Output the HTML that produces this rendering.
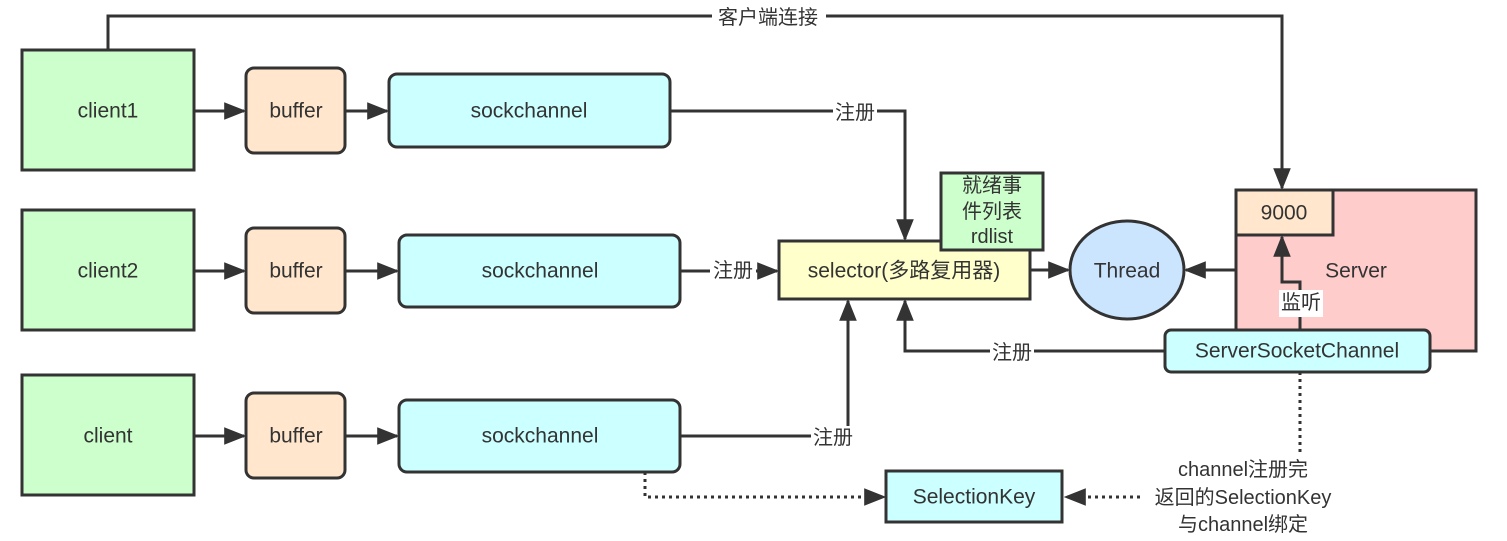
<!DOCTYPE html>
<html><head><meta charset="utf-8"><style>
html,body{margin:0;padding:0;background:#fff}
svg{display:block}
text{font-family:"Liberation Sans","Noto Sans CJK SC",sans-serif;fill:#333;dominant-baseline:central;text-anchor:middle}
</style></head><body>
<svg width="1507" height="541" viewBox="0 0 1507 541">
<defs>
<marker id="b" viewBox="0 0 10 10" refX="9" refY="5" markerWidth="22" markerHeight="22" markerUnits="userSpaceOnUse" orient="auto"><path d="M0,1L10,5L0,9z" fill="#333"/></marker></defs>
<g stroke="#333" stroke-width="3" fill="none">
<polyline points="108,50 108,16 1282,16 1282,188" marker-end="url(#b)"/>
<polyline points="670,111 905,111 905,239" marker-end="url(#b)"/>
<polyline points="680,271 777,271" marker-end="url(#b)"/>
<polyline points="680,436 848,436 848,301" marker-end="url(#b)"/>
<polyline points="1165,351 905,351 905,301" marker-end="url(#b)"/>
<polyline points="1030,270 1068,270" marker-end="url(#b)"/>
<polyline points="1236,270 1186,270" marker-end="url(#b)"/>
<polyline points="194,111 244,111" marker-end="url(#b)"/>
<polyline points="345,111 387,111" marker-end="url(#b)"/>
<polyline points="194,271 244,271" marker-end="url(#b)"/>
<polyline points="345,271 397,271" marker-end="url(#b)"/>
<polyline points="194,436 244,436" marker-end="url(#b)"/>
<polyline points="345,436 397,436" marker-end="url(#b)"/>
<g stroke-dasharray="3,4">
<polyline points="1300,372 1300,455"/>
<polyline points="1140,497 1066,497" marker-end="url(#b)"/>
<polyline points="645,472 645,497 884,497" marker-end="url(#b)"/>
</g>
</g>
<g stroke="#333" stroke-width="3">
<rect x="22" y="50" width="172" height="120" fill="#ccffcc"/>
<rect x="22" y="210" width="172" height="120" fill="#ccffcc"/>
<rect x="22" y="375" width="172" height="120" fill="#ccffcc"/>
<rect x="246" y="68" width="99" height="85" rx="8" fill="#ffe6cc"/>
<rect x="246" y="228" width="99" height="85" rx="8" fill="#ffe6cc"/>
<rect x="246" y="393" width="99" height="85" rx="8" fill="#ffe6cc"/>
<rect x="389" y="74" width="281" height="73" rx="8" fill="#ccffff"/>
<rect x="399" y="235" width="281" height="72" rx="8" fill="#ccffff"/>
<rect x="399" y="400" width="281" height="72" rx="8" fill="#ccffff"/>
<rect x="779" y="241" width="251" height="58" fill="#ffffcc"/>
<rect x="941" y="173" width="102" height="77" fill="#ccffcc"/>
<ellipse cx="1127" cy="270" rx="57" ry="49" fill="#cce5ff"/>
<rect x="1236" y="190" width="240" height="161" fill="#ffcccc"/>
<rect x="1236" y="190" width="97" height="45" fill="#ffe6cc"/>
</g>
<polyline points="1300,330 1300,282 1282,282 1282,237" stroke="#333" stroke-width="3" fill="none" marker-end="url(#b)"/>
<g stroke="#333" stroke-width="3">
<rect x="1165" y="330" width="265" height="42" rx="6" fill="#ccffff"/>
<rect x="886" y="471" width="176" height="51" fill="#ccffff"/>
</g>
<rect x="1279" y="290" width="44" height="27" fill="#fff"/>
<g font-size="21">
<text x="108" y="111">client1</text><text x="108" y="271">client2</text><text x="108" y="436">client</text>
<text x="296" y="111">buffer</text><text x="296" y="271">buffer</text><text x="296" y="436">buffer</text>
<text x="529" y="111">sockchannel</text><text x="540" y="271">sockchannel</text><text x="540" y="436">sockchannel</text>
<text x="904" y="271">selector(多路复用器)</text>
<text x="1127" y="271">Thread</text>
<text x="1284" y="213">9000</text>
<text x="1356" y="271">Server</text>
<text x="1297" y="351">ServerSocketChannel</text>
<text x="974" y="497">SelectionKey</text>
</g>
<g font-size="20">
<rect x="712" y="6" width="114" height="22" fill="#fff"/>
<text x="768" y="18">客户端连接</text>
<rect x="833" y="101" width="44" height="24" fill="#fff"/><text x="855" y="113">注册</text>
<rect x="710" y="259" width="46" height="24" fill="#fff"/><text x="733" y="271">注册</text>
<rect x="811" y="426" width="44" height="24" fill="#fff"/><text x="833" y="438">注册</text>
<rect x="990" y="341" width="44" height="24" fill="#fff"/><text x="1012" y="353">注册</text>
<text x="1301" y="303">监听</text>
<text x="992" y="186">就绪事</text><text x="992" y="212">件列表</text><text x="992" y="237">rdlist</text>
<text x="1243" y="470">channel注册完</text>
<text x="1243" y="498">返回的SelectionKey</text>
<text x="1243" y="525">与channel绑定</text>
</g>
</svg>
</body></html>
